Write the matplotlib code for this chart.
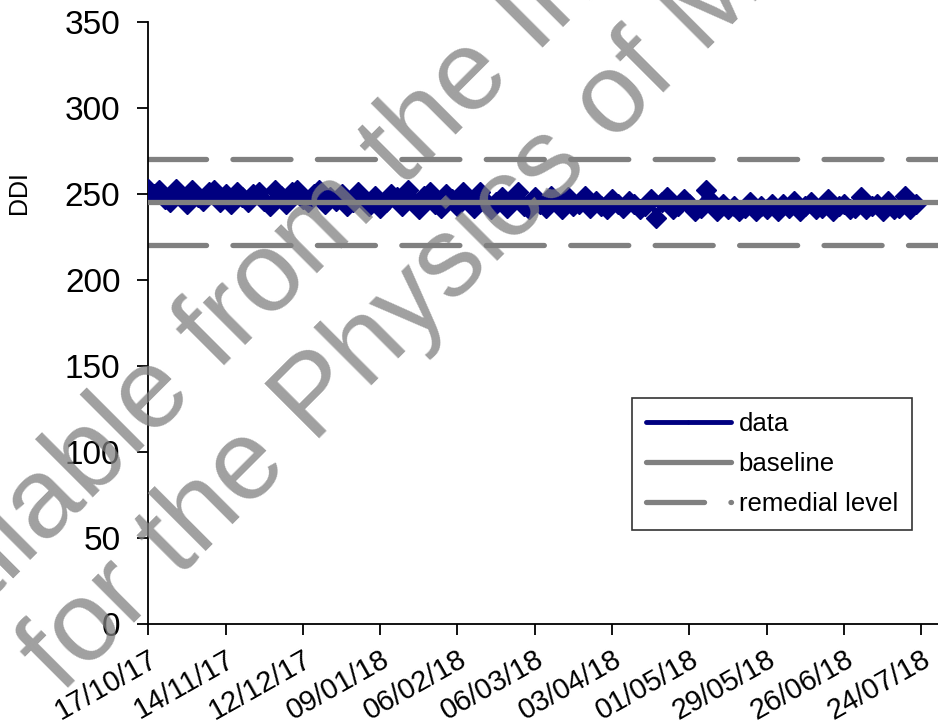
import matplotlib
matplotlib.use('Agg')
import matplotlib.pyplot as plt
import pandas as pd

plt.rcParams['font.family'] = ['Liberation Sans', 'DejaVu Sans']

# DDI readings, one every two days from 17/10/17
ddi = [253, 250, 252, 247, 245, 253, 249, 244, 252, 248, 246, 251, 252, 245,
       250, 244, 251, 248, 245, 250, 251, 246, 243, 252, 249, 244, 251, 252,
       247, 245, 250, 252, 244, 248, 246, 250, 243, 245, 251, 247, 243, 249,
       242, 245, 250, 248, 243, 252, 246, 241, 249, 251, 244, 242, 250, 247,
       243, 251, 245, 242, 251, 246, 241, 245, 248, 242, 246, 251, 243, 241,
       248, 244, 242, 249, 245, 241, 248, 243, 244, 249, 242, 246, 243, 241,
       247, 244, 242, 246, 244, 241, 243, 247, 236, 245, 248, 241, 243, 247,
       244, 240, 242, 252, 245, 240, 244, 241, 243, 240, 242, 245, 240, 243,
       241, 244, 240, 244, 242, 246, 240, 243, 245, 241, 242, 247, 240, 243,
       244, 241, 242, 248, 241, 243, 244, 240, 246, 241, 242, 249, 241, 244]
start = '2017-10-17'
baseline = 245
remedial = [270, 220]
tick_dates = ['17/10/17', '14/11/17', '12/12/17', '09/01/18', '06/02/18',
              '06/03/18', '03/04/18', '01/05/18', '29/05/18', '26/06/18',
              '24/07/18']

dates = pd.date_range(start, periods=len(ddi), freq='2D')
ticks = pd.to_datetime(tick_dates, format='%d/%m/%y')

fig = plt.figure(figsize=(9.38, 7.28), dpi=100)
ax = fig.add_axes([0.158, 0.143, 0.842, 0.827])

navy = '#000080'
grey = '#808080'
ax.plot(dates, ddi, color=navy, lw=3.5, marker='D', ms=10.5, mec=navy,
        mfc=navy, label='data', zorder=3, solid_capstyle='round')
ax.axhline(baseline, color=grey, lw=3.8, label='baseline', zorder=4,
           solid_capstyle='round')
for i, r in enumerate(remedial):
    ax.axhline(r, color=grey, lw=3.8, ls=(0, (11, 5)), dash_capstyle='round',
               label='remedial level' if i == 0 else None, zorder=2)

ax.set_ylim(0, 350)
ax.set_yticks(range(0, 351, 50))
ax.set_xlim(ticks[0], ticks[-1] + pd.Timedelta(days=6))
ax.set_xticks(ticks)
ax.set_xticklabels(tick_dates, rotation=29.5, ha='right', va='top',
                   rotation_mode='anchor')
ax.tick_params(axis='y', labelsize=24, length=8, width=1.3, direction='out', pad=12)
ax.tick_params(axis='x', labelsize=21, length=8, width=1.3, direction='out', pad=7)
ax.spines['top'].set_visible(False)
ax.spines['right'].set_visible(False)
ax.spines['left'].set_linewidth(1.3)
ax.spines['bottom'].set_linewidth(1.3)
ax.set_ylabel('DDI', fontsize=18)
ax.yaxis.set_label_coords(-0.149, 0.716)

leg = ax.legend(loc='lower right', bbox_to_anchor=(0.967, 0.156),
                borderaxespad=0, fontsize=18.5, frameon=True, fancybox=False,
                edgecolor='black', handlelength=3.3, handletextpad=0.3,
                borderpad=0.55, labelspacing=0.62, markerscale=0.15)
leg.get_frame().set_linewidth(1.2)

# watermark
fig.text(0.345, 0.690, 'Available from the Institute', fontsize=82, color=grey,
         alpha=0.75, rotation=45, ha='center', va='center', zorder=10)
fig.text(0.445, 0.590, 'for the Physics of Ma', fontsize=82, color=grey,
         alpha=0.75, rotation=45, ha='center', va='center', zorder=10)

fig.savefig('out.png', dpi=100)
